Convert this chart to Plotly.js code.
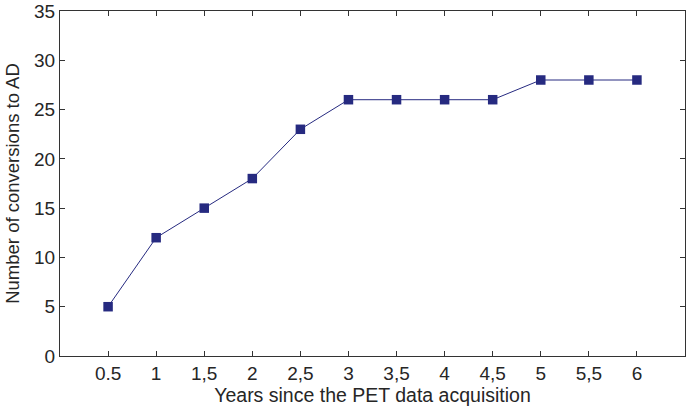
<!DOCTYPE html>
<html>
<head>
<meta charset="utf-8">
<script src="https://cdn.plot.ly/plotly-3.0.1.min.js"></script>
<style>html,body{margin:0;padding:0;background:#fff;}#chart{width:690px;height:412px;}</style>
</head>
<body>
<div id="chart"></div>
<script>
const positions = [1, 2, 3, 4, 5, 6, 7, 8, 9, 10, 11, 12];
const tickLabels = ["0.5", "1", "1,5", "2", "2,5", "3", "3,5", "4", "4,5", "5", "5,5", "6"];
const conversions = [5, 12, 15, 18, 23, 26, 26, 26, 26, 28, 28, 28];
const yTicks = [0, 5, 10, 15, 20, 25, 30, 35];

const color = "#262a80";
const fontFam = "Liberation Sans, Arial, Helvetica, sans-serif";
const txt = "#262626";

const trace = {
  x: positions,
  y: conversions,
  type: "scatter",
  mode: "lines+markers",
  line: {color: color, width: 1},
  marker: {symbol: "square", size: 9.5, color: color},
  hoverinfo: "skip",
  showlegend: false
};

const layout = {
  width: 690,
  height: 412,
  margin: {l: 60, r: 5, t: 11, b: 56},
  paper_bgcolor: "#fff",
  plot_bgcolor: "#fff",
  font: {family: fontFam, size: 19, color: txt},
  xaxis: {
    range: [0, 13],
    tickmode: "array",
    tickvals: positions,
    ticktext: tickLabels,
    ticks: "inside",
    ticklen: 5,
    tickcolor: "#333",
    showgrid: false,
    zeroline: false,
    showline: true,
    linecolor: "#333",
    linewidth: 1,
    mirror: "ticks",
    tickfont: {size: 19, family: fontFam, color: txt},
    title: {text: "Years since the PET data acquisition", font: {size: 19.5, family: fontFam, color: txt}, standoff: 5}
  },
  yaxis: {
    range: [0, 35],
    tickmode: "array",
    tickvals: yTicks,
    ticks: "inside",
    ticklen: 5,
    tickcolor: "#333",
    showgrid: false,
    zeroline: false,
    showline: true,
    linecolor: "#333",
    linewidth: 1,
    mirror: "ticks",
    tickfont: {size: 19, family: fontFam, color: txt},
    title: {text: "Number of conversions to AD", font: {size: 18.5, family: fontFam, color: txt}, standoff: 9}
  }
};

Plotly.newPlot("chart", [trace], layout, {staticPlot: true, displayModeBar: false});
</script>
</body>
</html>
